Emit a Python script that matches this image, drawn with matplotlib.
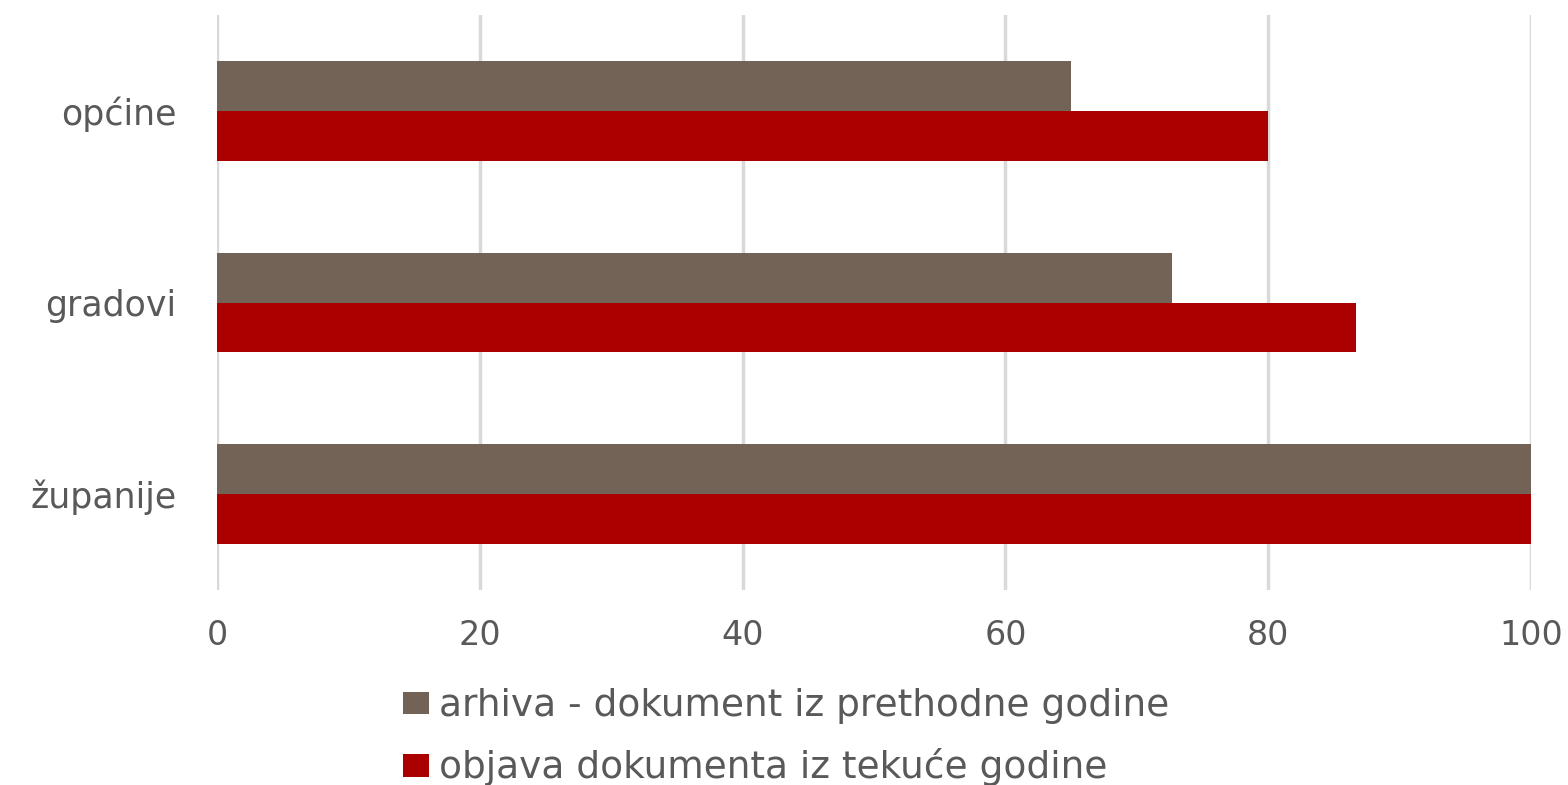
import numpy as np
import matplotlib
matplotlib.use("Agg")
import matplotlib.pyplot as plt

kategorije = ["županije", "gradovi", "općine"]
arhiva = [100, 72.7, 65]
objava = [100, 86.7, 80]
naziv_arhiva = "arhiva - dokument iz prethodne godine"
naziv_objava = "objava dokumenta iz tekuće godine"

boja_arhiva = "#736357"
boja_objava = "#AA0000"
siva = "#595959"

plt.rcParams['font.family'] = ['DejaVu Sans']

fig = plt.figure(figsize=(15.68, 7.85), dpi=100)
ax = fig.add_axes([217/1568, 1-590/785, (1531-217)/1568, (590-15)/785])

y = np.arange(len(kategorije))
h = 0.26
ax.barh(y + h/2, arhiva, height=h, color=boja_arhiva, label=naziv_arhiva, zorder=3)
ax.barh(y - h/2, objava, height=h, color=boja_objava, label=naziv_objava, zorder=3)

ax.set_xlim(0, 100)
ax.set_ylim(-0.5, 2.5)
ax.set_xticks([0, 20, 40, 60, 80, 100])
ax.set_yticks(y)
ax.set_yticklabels(kategorije)
ax.grid(axis='x', color='#D9D9D9', linewidth=2.5, zorder=0)
for s in ax.spines.values():
    s.set_visible(False)
ax.tick_params(axis='x', length=0, labelsize=24, colors=siva, pad=21)
ax.tick_params(axis='y', length=0, labelsize=25, colors=siva, pad=29)

fig.legend(loc='lower left', bbox_to_anchor=(388/1568, -0.021), ncol=1, frameon=False,
           fontsize=27, labelcolor=siva, handlelength=0.7, handleheight=0.55,
           handletextpad=0.25, labelspacing=0.65, borderaxespad=0.0)

fig.savefig("out.png", dpi=100)
